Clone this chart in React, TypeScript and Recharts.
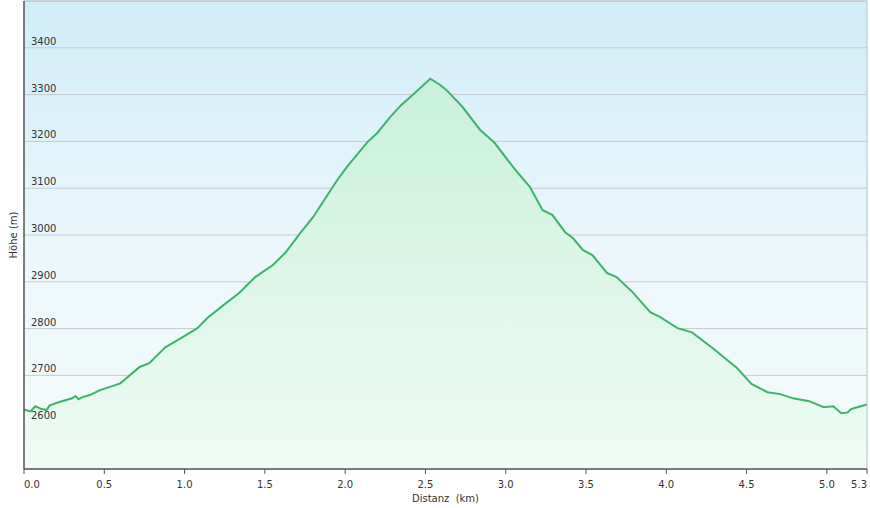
import { AreaChart, Area, XAxis, YAxis, CartesianGrid, ReferenceLine } from 'recharts'

// distance along the route (km) and elevation (m), read from the profile
const distances = [
  0, 0.04, 0.07, 0.11, 0.14, 0.16, 0.22, 0.3, 0.32, 0.34, 0.36, 0.41, 0.47, 0.6, 0.72, 0.78,
  0.88, 0.97, 1.08, 1.14, 1.26, 1.34, 1.44, 1.55, 1.63, 1.72, 1.8, 1.95, 2.01, 2.14, 2.2,
  2.28, 2.35, 2.42, 2.53, 2.59, 2.63, 2.73, 2.84, 2.93, 3.06, 3.15, 3.23, 3.29, 3.37, 3.42,
  3.48, 3.54, 3.63, 3.69, 3.79, 3.9, 3.96, 4.07, 4.16, 4.29, 4.44, 4.53, 4.63, 4.71, 4.79,
  4.89, 4.98, 5.04, 5.09, 5.13, 5.15, 5.19, 5.25,
]
const elevations = [
  2627, 2623, 2634, 2628, 2626, 2636, 2643, 2651, 2656, 2649, 2653, 2658, 2668, 2683, 2718, 2726,
  2760, 2778, 2801, 2822, 2855, 2876, 2910, 2936, 2963, 3004, 3038, 3117, 3145, 3199, 3218,
  3252, 3278, 3299, 3334, 3321, 3310, 3274, 3225, 3197, 3139, 3103, 3053, 3043, 3006, 2993,
  2968, 2957, 2919, 2910, 2878, 2835, 2825, 2801, 2792, 2758, 2716, 2682, 2664, 2660, 2651,
  2645, 2632, 2634, 2619, 2621, 2628, 2632, 2638,
]
const xTicks = [0, 0.5, 1, 1.5, 2, 2.5, 3, 3.5, 4, 4.5, 5, 5.25]
const yTicks = [2600, 2700, 2800, 2900, 3000, 3100, 3200, 3300, 3400]

const data = distances.map((d, i) => ({ dist: d, ele: elevations[i] }))

const font = '"DejaVu Sans", Verdana, sans-serif'

const XTick = (props: any) => {
  const { x, y, payload, index } = props
  const anchor = index === 0 ? 'start' : index === xTicks.length - 1 ? 'end' : 'middle'
  return (
    <text x={x} y={y + 12} textAnchor={anchor} fontSize={10} fontFamily={font} fill="#333">
      {payload.value.toFixed(1)}
    </text>
  )
}

const YTick = (props: any) => {
  const { y, payload } = props
  return (
    <text x={31} y={y - 3} textAnchor="start" fontSize={10} fontFamily={font} fill="#333">
      {payload.value}
    </text>
  )
}

export default function App() {
  return (
    <div style={{ position: 'absolute', left: 0, top: 0, background: '#fff' }}>
      <AreaChart width={870} height={508} data={data} margin={{ top: 1, right: 3, left: 0, bottom: 0 }}>
        <defs>
          <linearGradient id="bg" x1="0" y1="0" x2="0" y2="1">
            <stop offset="0%" stopColor="#d0edf9" />
            <stop offset="60%" stopColor="#eef8fc" />
            <stop offset="100%" stopColor="#f4fbf9" />
          </linearGradient>
          <linearGradient id="fill" x1="0" y1="0" x2="0" y2="1">
            <stop offset="0%" stopColor="#c9f0dc" />
            <stop offset="100%" stopColor="#effcf4" />
          </linearGradient>
        </defs>
        <CartesianGrid vertical={false} stroke="#c5ccd0" fill="url(#bg)" fillOpacity={1} />
        <XAxis
          dataKey="dist"
          type="number"
          domain={[0, 5.25]}
          ticks={xTicks}
          height={39}
          axisLine={{ stroke: '#555', strokeWidth: 1.5 }}
          tickLine={{ stroke: '#555' }}
          tickSize={5}
          tick={<XTick />}
          interval={0}
          label={{
            content: ({ viewBox }: any) => (
              <text
                x={viewBox.x + viewBox.width / 2}
                y={viewBox.y + 33}
                textAnchor="middle"
                fontSize={10}
                fontFamily={font}
                fill="#333"
                style={{ whiteSpace: 'pre' }}
              >
                {'Distanz  (km)'}
              </text>
            ),
          }}
        />
        <YAxis
          type="number"
          domain={[2500, 3500]}
          ticks={yTicks}
          width={24}
          axisLine={{ stroke: '#555', strokeWidth: 1.5 }}
          tickLine={false}
          tick={<YTick />}
          interval={0}
          label={{
            content: ({ viewBox }: any) => {
              const cx = 17
              const cy = viewBox.y + viewBox.height / 2
              return (
                <text
                  x={cx}
                  y={cy}
                  transform={`rotate(-90 ${cx} ${cy})`}
                  textAnchor="middle"
                  fontSize={10}
                  fontFamily={font}
                  fill="#333"
                >
                  Höhe (m)
                </text>
              )
            },
          }}
        />
        <ReferenceLine y={3500} stroke="#b8c0c4" />
        <ReferenceLine x={5.25} stroke="#b8c0c4" />
        <Area
          type="linear"
          dataKey="ele"
          baseValue={2500}
          stroke="#3cb46a"
          strokeWidth={2}
          fill="url(#fill)"
          fillOpacity={1}
          isAnimationActive={false}
          dot={false}
          activeDot={false}
        />
      </AreaChart>
    </div>
  )
}
